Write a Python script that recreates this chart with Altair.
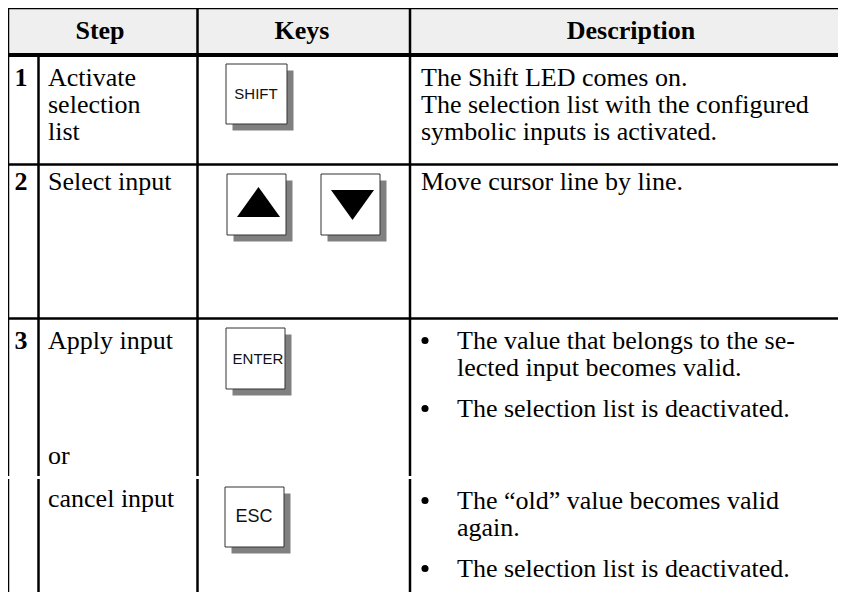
import altair as alt
import pandas as pd

# ---- canvas (image coordinates; page margin is 8px) ----
W, H = 830, 584
X0, Y0 = 8, 8

# ---- table content ----
header_labels = ["Step", "Keys", "Description"]
header_x = [100, 302, 631]
header_y = [39, 39, 39]

step_numbers = ["1", "2", "3"]
step_number_y = [86, 190, 349]

step_labels = ["Activate\nselection\nlist", "Select input", "Apply input", "or", "cancel input"]
step_label_y = [86, 190, 349, 464, 507]

desc_texts = [
    "The Shift LED comes on.\nThe selection list with the configured\nsymbolic inputs is activated.",
    "Move cursor line by line.",
]
desc_y = [86, 190]

bullet_texts = [
    "The value that belongs to the se-\nlected input becomes valid.",
    "The selection list is deactivated.",
    "The \u201cold\u201d value becomes valid\nagain.",
    "The selection list is deactivated.",
]
bullet_y = [349, 417, 509, 577]

# keys (boxes) and their labels
key_names = ["SHIFT", "\u25b2", "\u25bc", "ENTER", "ESC"]
key_left = [226, 227, 321, 226, 225]
key_right = [287, 286, 380, 285, 284]
key_top = [64, 174, 174, 328, 487]
key_bottom = [124, 235, 235, 389, 547]

label_keys = ["SHIFT", "ENTER", "ESC"]
label_x = [256, 258, 254]
label_y = [94, 359, 517]
label_size = [15, 15, 18]

arrow_dirs = ["up", "down"]
arrow_x = [258.5, 352.5]
arrow_y = [202, 205]

# grid lines
hline_y = [8, 55, 164.5, 318.5]
hline_w = [2.5, 4, 2.5, 2.5]
vline_x = [8, 38.5, 197.5, 410, 8, 38.5, 197.5, 410]
vline_top = [8, 55, 8, 8, 479, 479, 479, 479]
vline_bottom = [476, 476, 476, 476, 592, 592, 592, 592]

xsc = alt.Scale(domain=[X0, X0 + W], nice=False, zero=False)
ysc = alt.Scale(domain=[Y0, Y0 + H], nice=False, zero=False, reverse=True)


def X(f):
    return alt.X(f, type="quantitative", scale=xsc, axis=None)


def Y(f):
    return alt.Y(f, type="quantitative", scale=ysc, axis=None)


# header background
hdr_bg = alt.Chart(pd.DataFrame({"x": [X0], "x2": [X0 + W], "y": [9], "y2": [54]})).mark_rect(
    color="#efefef"
).encode(x=X("x"), x2="x2", y=Y("y"), y2="y2")

# horizontal rules
hdf = pd.DataFrame({"y": hline_y, "w": hline_w, "x": [X0 - 1] * 4, "x2": [X0 + W] * 4})
hrules = alt.Chart(hdf).mark_rule(color="black").encode(
    x=X("x"), x2="x2", y=Y("y"), strokeWidth=alt.StrokeWidth("w:Q", scale=None)
)

vdf = pd.DataFrame({"x": vline_x, "y": vline_top, "y2": vline_bottom})
vrules = alt.Chart(vdf).mark_rule(color="black", strokeWidth=2.5).encode(
    x=X("x"), y=Y("y"), y2="y2"
)

kdf = pd.DataFrame({"key": key_names, "l": key_left, "r": key_right, "t": key_top, "b": key_bottom})
kdf["sl"] = kdf["l"] + 6.5
kdf["sr"] = kdf["r"] + 6.5
kdf["st"] = kdf["t"] + 6.5
kdf["sb"] = kdf["b"] + 6.5

shadows = alt.Chart(kdf).mark_rect(color="#808080").encode(
    x=X("sl"), x2="sr", y=Y("st"), y2="sb"
)
boxes = alt.Chart(kdf).mark_rect(fill="white", stroke="#333333", strokeWidth=1).encode(
    x=X("l"), x2="r", y=Y("t"), y2="b"
)

ldf = pd.DataFrame({"t": label_keys, "x": label_x, "y": label_y, "s": label_size})
klabels = alt.Chart(ldf).mark_text(
    font="Liberation Sans", baseline="middle", align="center", color="#111111"
).encode(x=X("x"), y=Y("y"), text="t:N", size=alt.Size("s:Q", scale=None))

up_path = "M0,-0.7L-1,0.7L1,0.7Z"
down_path = "M-1,-0.7L1,-0.7L0,0.7Z"
adf = pd.DataFrame({"d": arrow_dirs, "x": arrow_x, "y": arrow_y})
up = alt.Chart(adf[adf.d == "up"]).mark_point(
    shape=up_path, filled=True, color="black", size=1849, opacity=1, strokeWidth=0
).encode(x=X("x"), y=Y("y"))
down = alt.Chart(adf[adf.d == "down"]).mark_point(
    shape=down_path, filled=True, color="black", size=1849, opacity=1, strokeWidth=0
).encode(x=X("x"), y=Y("y"))

SERIF = "Liberation Serif"
FS = 26
LH = 27

header = alt.Chart(pd.DataFrame({"t": header_labels, "x": header_x, "y": header_y})).mark_text(
    font=SERIF, fontSize=26, fontWeight="bold", align="center", baseline="alphabetic", color="black"
).encode(x=X("x"), y=Y("y"), text="t:N")

nums = alt.Chart(pd.DataFrame({"t": step_numbers, "y": step_number_y, "x": [21] * 3})).mark_text(
    font=SERIF, fontSize=FS, fontWeight="bold", align="center", baseline="alphabetic", color="black"
).encode(x=X("x"), y=Y("y"), text="t:N")

steps = alt.Chart(pd.DataFrame({"t": step_labels, "y": step_label_y, "x": [48] * 5})).mark_text(
    font=SERIF, fontSize=FS, align="left", baseline="alphabetic", color="black",
    lineBreak="\n", lineHeight=LH
).encode(x=X("x"), y=Y("y"), text="t:N")

descs = alt.Chart(pd.DataFrame({"t": desc_texts, "y": desc_y, "x": [421] * 2})).mark_text(
    font=SERIF, fontSize=FS, align="left", baseline="alphabetic", color="black",
    lineBreak="\n", lineHeight=LH
).encode(x=X("x"), y=Y("y"), text="t:N")

btexts = alt.Chart(pd.DataFrame({"t": bullet_texts, "y": bullet_y, "x": [457] * 4})).mark_text(
    font=SERIF, fontSize=FS, align="left", baseline="alphabetic", color="black",
    lineBreak="\n", lineHeight=LH
).encode(x=X("x"), y=Y("y"), text="t:N")

# bullet dots (centred on the x-height of each first line)
bdf = pd.DataFrame({"y": [v - 8.5 for v in bullet_y], "x": [425] * 4})
bdots = alt.Chart(bdf).mark_point(
    shape="circle", filled=True, color="black", size=50, opacity=1, strokeWidth=0
).encode(x=X("x"), y=Y("y"))

chart = alt.layer(
    hdr_bg, shadows, boxes, up, down, klabels, hrules, vrules, header, nums, steps, descs, btexts, bdots
).properties(
    width=W, height=H, padding=0, autosize=alt.AutoSizeParams(type="none"), background="white"
).configure_view(stroke=None)

chart.save("out.html", embed_options={"renderer": "svg", "actions": False})
